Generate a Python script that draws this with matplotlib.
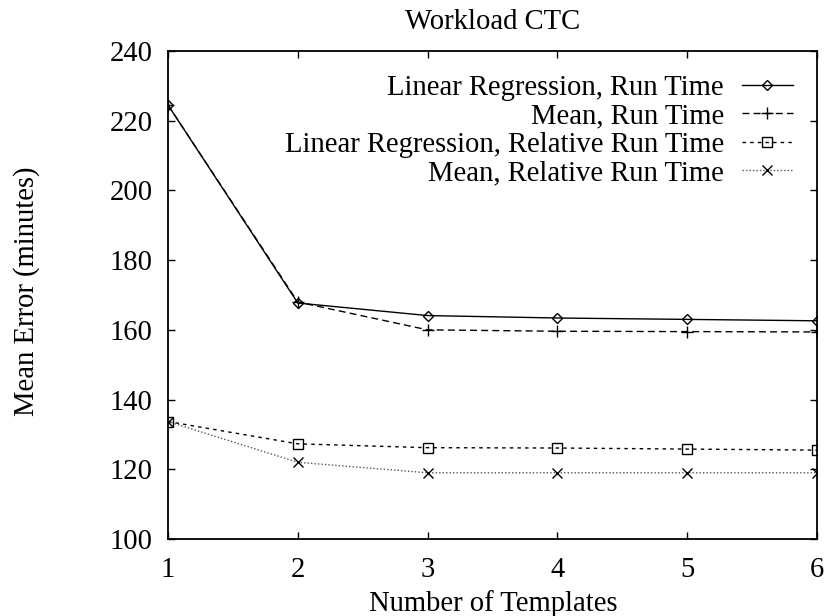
import matplotlib
matplotlib.use("Agg")
import matplotlib.pyplot as plt

templates = [1, 2, 3, 4, 5, 6]
lr_run = [224.5, 167.7, 164.1, 163.4, 163.0, 162.6]
mean_run = [224.5, 168.0, 160.0, 159.6, 159.5, 159.4]
lr_rel = [133.7, 127.3, 126.2, 126.1, 125.8, 125.5]
mean_rel = [133.7, 122.0, 119.0, 119.0, 119.0, 119.0]

labels = ["Linear Regression, Run Time", "Mean, Run Time",
          "Linear Regression, Relative Run Time", "Mean, Relative Run Time"]
xticks = [1, 2, 3, 4, 5, 6]
yticks = [100, 120, 140, 160, 180, 200, 220, 240]

plt.rcParams['font.family'] = ['Liberation Serif', 'DejaVu Serif']
plt.rcParams['font.size'] = 20.6

W, H = 827, 616
fig = plt.figure(figsize=(W / 100, H / 100), dpi=100)
L, R, T, B = 168, 817, 51, 539
ax = fig.add_axes([L / W, 1 - B / H, (R - L) / W, (B - T) / H])

ax.plot(templates, lr_run, color='black', lw=1.0, ls='-', marker='D', ms=5,
        mfc='none', mec='black', mew=1.0, label=labels[0])
ax.plot(templates, mean_run, color='black', lw=1.0, ls=(0, (5, 3)), marker='+', ms=8,
        mew=1.0, label=labels[1])
ax.plot(templates, lr_rel, color='black', lw=1.0, ls=(0, (2.5, 3)), marker='s', ms=7,
        mfc='none', mec='black', mew=1.0, label=labels[2])
ax.plot(templates, mean_rel, color='#555555', lw=1.0, ls=(0, (1, 1.5)), marker='x', ms=7,
        mec='black', mew=1.0, label=labels[3])

ax.set_xlim(1, 6)
ax.set_ylim(100, 240)
ax.set_xticks(xticks)
ax.set_yticks(yticks)
ax.tick_params(direction='in', top=True, right=True, length=5, width=1)
ax.tick_params(axis='x', pad=13)
ax.tick_params(axis='y', pad=11)
for s in ax.spines.values():
    s.set_linewidth(1.3)

cx = (L + R) / 2 / W
fig.text(cx, 1 - 29 / H, "Workload CTC", ha='center', va='baseline')
fig.text(493 / W, 1 - 611 / H, "Number of Templates", ha='center', va='baseline')
fig.text(27 / W, 1 - 291 / H, "Mean Error (minutes)", rotation=90,
         ha='center', va='center')

leg = ax.legend(loc='upper right', bbox_to_anchor=((793 - L) / (R - L), (B - 75) / (B - T)),
                frameon=False, markerfirst=False, handlelength=1.8, handletextpad=0.62,
                labelspacing=0.08, borderaxespad=0, borderpad=0)

fig.savefig("out.png", dpi=100)
